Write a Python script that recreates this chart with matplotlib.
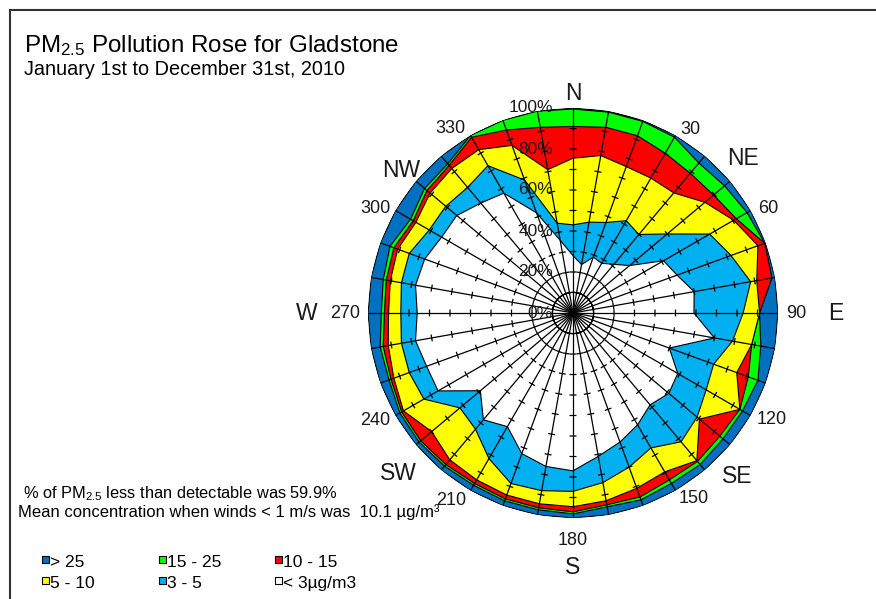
import numpy as np
import matplotlib
matplotlib.use("Agg")
import matplotlib.pyplot as plt
import matplotlib.transforms as mtransforms
from matplotlib.patches import Rectangle
from matplotlib.lines import Line2D

plt.rcParams['font.family'] = ['Liberation Sans', 'DejaVu Sans']
plt.rcParams['mathtext.fontset'] = 'custom'
plt.rcParams['mathtext.rm'] = 'Liberation Sans'
plt.rcParams['mathtext.it'] = 'Liberation Sans:italic'
plt.rcParams['mathtext.bf'] = 'Liberation Sans:bold'

# ---------------- data (cumulative % per wind direction) ----------------
directions = list(range(0, 360, 10))
cum_lt3 = [28, 24, 29, 28, 31, 36, 51, 54, 60, 59, 70, 50, 59, 61, 58.5, 63, 67, 71,
           77, 76, 73, 64, 68, 59, 76, 76, 78, 76, 78, 77, 74, 74, 70, 67.5, 52, 36]
cum_3_5 = [43, 45, 47, 52, 50, 60, 77, 82, 88, 83, 79, 73, 75, 79, 82, 76, 80, 84,
           87, 88, 88.5, 82, 74, 72, 84, 85, 85, 84, 85, 85, 81, 81, 80, 83, 69, 44.5]
cum_5_10 = [75.5, 78, 76, 76, 76.5, 84, 90.5, 96, 91, 91, 88.5, 85, 94, 80.5, 94, 89.5, 91, 93,
            94.5, 94.5, 94.5, 94, 93.5, 90, 95.5, 93, 91.5, 90, 90.5, 91, 88.5, 91, 92, 92, 87, 71]
cum_10_15 = [91, 92, 92, 90, 89, 89.5, 92, 99.5, 98.5, 91, 88.5, 91, 94, 93.5, 94.5, 94, 95.5, 95,
             97, 96.5, 96.5, 96, 96.5, 97, 96.5, 94.5, 94, 92, 92.5, 93, 90, 93, 94, 99, 95, 92]
cum_15_25 = [99.5, 99.5, 99.5, 99, 95.5, 96.5, 98, 99.5, 98.5, 91, 93, 96, 95.5, 95.5, 96.5, 96, 97, 96,
             98, 97.5, 97.5, 97, 97.5, 98, 97.5, 95.5, 95.5, 93.5, 94, 95, 91.5, 94.5, 95, 100, 100, 100]
cum_gt25 = [100] * 36

legend_labels = ["> 25", "15 - 25", "10 - 15", "5 - 10", "3 - 5", "< 3µg/m3"]
compass_labels = ["N", "NE", "E", "SE", "S", "SW", "W", "NW"]
angle_labels = ["30", "60", "90", "120", "150", "180", "210", "240", "270", "300", "330"]
pct_labels = ["0%", "20%", "40%", "60%", "80%", "100%"]

# ---------------- styles / layout ----------------
c_dark = "#0070C0"
c_green = "#00FF00"
c_red = "#FF0000"
c_yellow = "#FFFF00"
c_light = "#00B0F0"
c_white = "#FFFFFF"

W, H = 876, 599
fig = plt.figure(figsize=(W / 100, H / 100), dpi=100)
cx, cy, R = 573, 313, 205
ax = fig.add_axes([(cx - R) / W, (H - cy - R) / H, 2 * R / W, 2 * R / H], projection='polar')
ax.set_theta_zero_location('N')
ax.set_theta_direction(-1)
ax.set_ylim(0, 100)
ax.set_axis_off()

theta = np.deg2rad(directions)
th_c = np.append(theta, theta[0])

layers = [(cum_gt25, c_dark), (cum_15_25, c_green), (cum_10_15, c_red),
          (cum_5_10, c_yellow), (cum_3_5, c_light), (cum_lt3, c_white)]
for i, (vals, col) in enumerate(layers):
    v = np.append(vals, vals[0])
    ax.fill(th_c, v, facecolor=col, edgecolor='black', linewidth=0.8, zorder=2 + i)

# radial spokes
for t in theta:
    ax.plot([t, t], [0, 100], color='black', lw=0.9, zorder=10, solid_capstyle='butt')

# tick marks on spokes every 10 %
half = 1.7
tx, ty = [], []
for t in theta:
    for r in range(10, 100, 10):
        d = np.arctan(half / r)
        rr = np.hypot(r, half)
        tx += [t - d, t + d, np.nan]
        ty += [rr, rr, np.nan]
ax.plot(tx, ty, color='black', lw=0.9, zorder=10, solid_capstyle='butt')

# percentage labels left of the north spoke
ptrans = ax.transData + mtransforms.ScaledTranslation(-20 / 100, 0, fig.dpi_scale_trans)
for i, lab in enumerate(pct_labels):
    ax.text(0, i * 20, lab, transform=ptrans, ha='right', va='center',
            fontsize=12.5, zorder=20, color='#1a1a1a')

# direction labels (angle deg, radius %)
compass_pos = [(0, 107), (47.6, 112), (90, 128), (134.8, 113), (180, 124),
               (227.4, 116), (270, 130), (309.6, 109)]
for lab, (a, r) in zip(compass_labels, compass_pos):
    ax.text(np.deg2rad(a), r, lab, ha='center', va='center', fontsize=16.5, color='#1a1a1a')

angle_pos = [(32.6, 106), (61.8, 108), (90, 109), (118.3, 110), (146.9, 108), (180, 111),
             (213.1, 109), (241.5, 110), (270, 111), (297.9, 109), (326.4, 108)]
for lab, (a, r) in zip(angle_labels, angle_pos):
    ax.text(np.deg2rad(a), r, lab, ha='center', va='center', fontsize=13, color='#1a1a1a')

# frame
fig.add_artist(Line2D([10 / W, 1], [1 - 10 / H, 1 - 10 / H], color='#333333', lw=1.5,
                      transform=fig.transFigure))
fig.add_artist(Line2D([10 / W, 10 / W], [0, 1 - 10 / H], color='#333333', lw=1.5,
                      transform=fig.transFigure))

def fx(px):
    return px / W

def fy(py):
    return 1 - py / H

fig.text(fx(24), fy(52), "PM$_{2.5}$ Pollution Rose for Gladstone", fontsize=17.4,
         ha='left', va='baseline')
fig.text(fx(24), fy(75), "January 1st to December 31st, 2010", fontsize=14.3,
         ha='left', va='baseline')
fig.text(fx(23), fy(498.5), "% of PM$_{2.5}$ less than detectable was 59.9%", fontsize=11.8,
         ha='left', va='baseline')
fig.text(fx(18.5), fy(517.5), "Mean concentration when winds < 1 m/s was  10.1 µg/m³", fontsize=12,
         ha='left', va='baseline')

# legend
leg_colors = [c_dark, c_green, c_red, c_yellow, c_light, c_white]
col_x = [45.7, 162.7, 278.7]
row_y = [559, 580.5]
row_base = [566.7, 588.3]
for i, (lab, col) in enumerate(zip(legend_labels, leg_colors)):
    rr_, cc_ = divmod(i, 3)
    sx, sy = col_x[cc_], row_y[rr_]
    fig.add_artist(Rectangle((fx(sx - 3.5), fy(sy + 3.5)), 7 / W, 7 / H, transform=fig.transFigure,
                             facecolor=col, edgecolor='black', lw=0.8))
    fig.text(fx(sx + 4.5), fy(row_base[rr_]), lab, fontsize=12.5, ha='left', va='baseline')

fig.savefig("out.png", dpi=100)
